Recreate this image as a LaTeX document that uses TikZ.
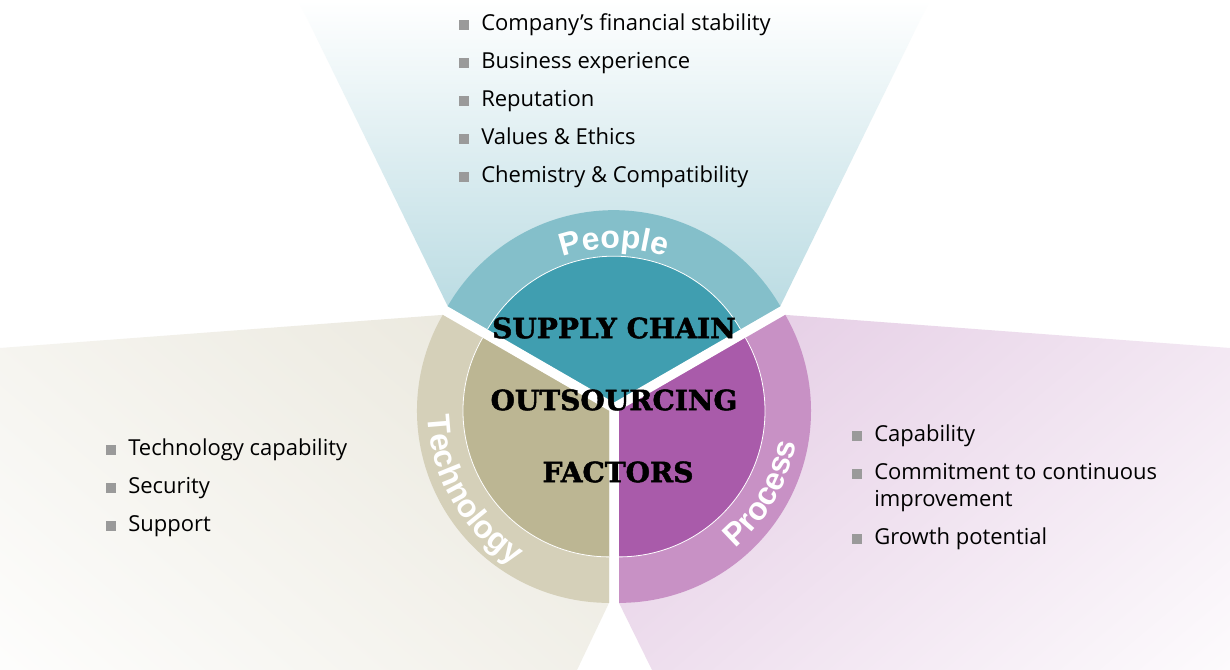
\documentclass[tikz,border=0pt]{standalone}
\usepackage{fontspec}
\usepackage{xcolor}
\usetikzlibrary{positioning,decorations.text}
\setmainfont{Open Sans}
\newfontfamily\ringfont{Liberation Sans}
\newfontfamily\titlefont[BoldFeatures={FakeBold=1.6}]{DejaVu Serif}

\definecolor{peopleFan}{HTML}{A6D1DA}
\definecolor{peopleRing}{HTML}{84BFCA}
\definecolor{peopleCore}{HTML}{409EB0}
\definecolor{techFan}{HTML}{E6E3D6}
\definecolor{techRing}{HTML}{D5D0B9}
\definecolor{techCore}{HTML}{BCB693}
\definecolor{procFan}{HTML}{DFC2DF}
\definecolor{procRing}{HTML}{C891C5}
\definecolor{procCore}{HTML}{A95BAA}
\definecolor{bulGray}{HTML}{9A9A9A}

\tikzset{
  item/.style={anchor=west, inner sep=0pt, text height=12pt, text depth=3.5pt,
    font=\fontsize{16.5}{20}\selectfont},
  bul/.style={fill=bulGray, minimum size=7.5pt, inner sep=0pt},
  title/.style={font=\titlefont\bfseries\fontsize{21}{21}\selectfont, inner sep=0pt},
  ringlab/.style={decorate, decoration={text along path, text align=center, text color=white,
    text={|\ringfont\bfseries\fontsize{24}{24}\selectfont|#1}}},
  seam/.style={white, line width=0.6pt}
}

\begin{document}
\begin{tikzpicture}[x=0.75pt,y=0.75pt]
  \fill[white] (0,0) rectangle (1230,670);
  \useasboundingbox (0,0) rectangle (1230,670);
  \coordinate (cp) at (614,267.8);
  \coordinate (ct) at (609,259.1);
  \coordinate (cr) at (619,259.1);

  \shade[top color=white, bottom color=peopleFan]
    ([shift={(150:192)}]cp) -- (298,670) -- (930,670) -- ([shift={(30:192)}]cp) -- (cp) -- cycle;
  \begin{scope}
    \clip ([shift={(150:192)}]ct) -- (0,322) -- (0,0) -- (577,0) -- ([shift={(270:192)}]ct) -- (ct) -- cycle;
    \shade[top color=techFan, bottom color=white, shading angle=-40] (-100,-200) rectangle (700,600);
  \end{scope}
  \begin{scope}
    \clip ([shift={(30:192)}]cr) -- (1230,322) -- (1230,0) -- (652,0) -- ([shift={(270:192)}]cr) -- (cr) -- cycle;
    \shade[top color=procFan, bottom color=white, shading angle=40] (530,-200) rectangle (1330,600);
  \end{scope}

  \foreach \ctr/\a/\grp in {cp/30/people, ct/150/tech, cr/270/proc}{
    \fill[fill=\grp Ring] (\ctr) -- ([shift={(\a:192)}]\ctr) arc (\a:\a+120:192) -- cycle;
    \fill[fill=\grp Core] (\ctr) -- ([shift={(\a:146)}]\ctr) arc (\a:\a+120:146) -- cycle;
    \draw[seam] ([shift={(\a:146)}]\ctr) arc (\a:\a+120:146);
  }

  \path[ringlab=People] ([shift={(150:154)}]cp) arc (150:30:154);
  \path[ringlab=Technology] ([shift={(150:181)}]ct) arc (150:270:181);
  \path[ringlab=Process] ([shift={(270:180)}]cr) arc (270:390:180);

  \node[title] (sc) at (614,342) {SUPPLY CHAIN};
  \node[title, node distance=54pt, below of=sc] (os) {OUTSOURCING};
  \node[title, node distance=54pt, below of=os, xshift=3pt] (fa) {FACTORS};

  \node[item] (pe1) at (481,644.7) {Company’s financial stability};
  \node[item, below=28.5pt of pe1.west, anchor=west] (pe2) {Business experience};
  \node[item, below=28.5pt of pe2.west, anchor=west] (pe3) {Reputation};
  \node[item, below=28.5pt of pe3.west, anchor=west] (pe4) {Values \& Ethics};
  \node[item, below=28.5pt of pe4.west, anchor=west] (pe5) {Chemistry \& Compatibility};

  \node[item] (te1) at (128,219.7) {Technology capability};
  \node[item, below=28.5pt of te1.west, anchor=west] (te2) {Security};
  \node[item, below=28.5pt of te2.west, anchor=west] (te3) {Support};

  \node[item] (pr1) at (874,234) {Capability};
  \node[item, below=28.5pt of pr1.west, anchor=west] (pr2) {Commitment to continuous};
  \node[item, below=20.25pt of pr2.west, anchor=west] (pr2b) {improvement};
  \node[item, below=28.5pt of pr2b.west, anchor=west] (pr3) {Growth potential};

  \foreach \n in {pe1,pe2,pe3,pe4,pe5,te1,te2,te3,pr1,pr2,pr3}
    \node[bul, left=9pt of \n] (b\n) {};
\end{tikzpicture}
\end{document}
